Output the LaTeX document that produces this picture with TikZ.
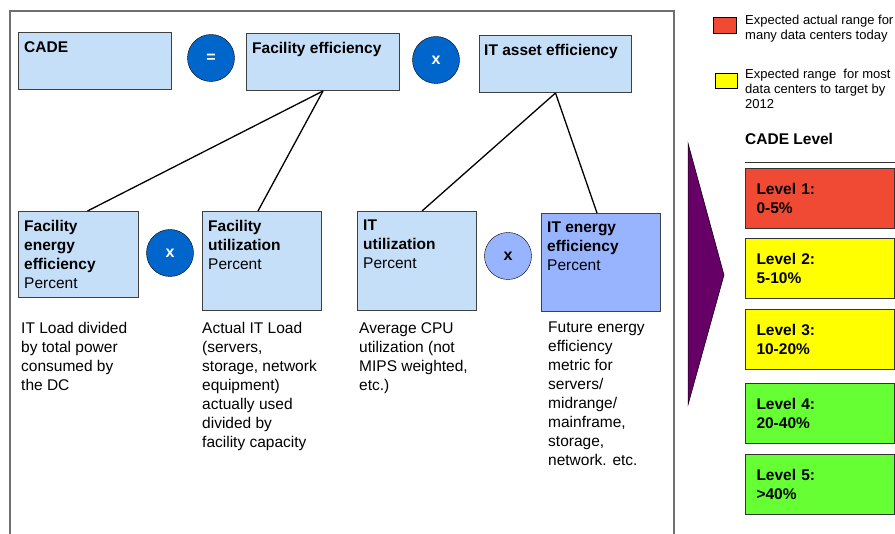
\documentclass[tikz,border=0pt]{standalone}
\usepackage{fontspec}
\setmainfont{Liberation Sans}
\usetikzlibrary{positioning}

\definecolor{boxblue}{HTML}{C6DFF9}
\definecolor{boxedge}{HTML}{404040}
\definecolor{opblue}{HTML}{0066CC}
\definecolor{paleblue}{HTML}{99B4FF}
\definecolor{levelred}{HTML}{F04A35}
\definecolor{levelyellow}{HTML}{FFFF00}
\definecolor{levelgreen}{HTML}{66FF33}
\definecolor{arrowpurple}{HTML}{660066}
\definecolor{framegray}{HTML}{707070}

\newcommand{\basefont}{\fontsize{15.5}{19}\selectfont}
\newcommand{\legendfont}{\fontsize{13}{15}\selectfont}

\tikzset{
  frame/.style={draw=framegray, line width=1.3pt},
  box/.style={draw=boxedge, fill=boxblue, line width=1pt, anchor=north west, inner sep=0pt},
  title/.style={anchor=north west, inner sep=0pt, align=left, font=\basefont},
  desc/.style={anchor=north west, inner sep=0pt, align=left, font=\basefont},
  op/.style={circle, draw=black, fill=opblue, minimum size=47pt, inner sep=0pt, text=white, font=\fontsize{16}{19}\selectfont\bfseries},
  link/.style={line width=1.3pt},
  legend/.style={anchor=north west, inner sep=0pt, align=left, font=\legendfont},
  level/.style={draw=black!80, line width=1pt, anchor=north west, align=left, text width=127pt, inner xsep=11pt, minimum height=60pt, font=\basefont\bfseries}
}

\begin{document}
\begin{tikzpicture}[x=1pt,y=-1pt]
\useasboundingbox (0,0) rectangle (895,534);
\draw[frame] (10,534) |- (674,11) -- (674,534);

% top row
\node[box, minimum width=153pt, minimum height=57pt] (cade) at (18,32) {};
\node[title, below right=9pt and 6pt of cade.north west] (cadet) {\textbf{CADE}};
\node[op] (eq) at (211,58) {=};
\node[box, minimum width=153pt, minimum height=57pt] (fac) at (246,33) {};
\node[title, below right=9pt and 6pt of fac.north west] (fact) {\textbf{Facility efficiency}};
\node[op] (times1) at (436,60) {x};
\node[box, minimum width=152pt, minimum height=57pt] (itasset) at (479,35) {};
\node[title, below right=9pt and 5pt of itasset.north west] (itassett) {\textbf{IT asset efficiency}};

% bottom row
\node[box, minimum width=120pt, minimum height=86pt] (fee) at (18,211) {};
\node[title, below right=9pt and 6pt of fee.north west] (feet) {\textbf{Facility}\\\textbf{energy}\\\textbf{efficiency}\\Percent};
\node[op] (times2) at (170,253) {x};
\node[box, minimum width=119pt, minimum height=99pt] (facutil) at (202,211) {};
\node[title, below right=9pt and 6pt of facutil.north west] (facutilt) {\textbf{Facility}\\\textbf{utilization}\\Percent};
\node[box, minimum width=119pt, minimum height=99pt] (itutil) at (357,211) {};
\node[title, below right=9pt and 6pt of itutil.north west] (itutilt) {\textbf{IT}\\\textbf{utilization}\\Percent};
\node[op, fill=paleblue, text=black] (times3) at (508,256) {x};
\node[box, fill=paleblue, minimum width=119pt, minimum height=98pt] (iteff) at (541,213) {};
\node[title, below right=9pt and 6pt of iteff.north west] (iefft) {\textbf{IT energy}\\\textbf{efficiency}\\Percent};

% tree lines
\draw[link] (fac.south) -- ([xshift=9pt]fee.north);
\draw[link] (fac.south) -- ([xshift=-4pt]facutil.north);
\draw[link] (itasset.south) -- ([xshift=5pt]itutil.north);
\draw[link] (itasset.south) -- ([xshift=-4pt]iteff.north);

% descriptions
\node[desc] (d1) at (21,322) {IT Load divided\\by total power\\consumed by\\the DC};
\node[desc] (d2) at (202,322) {Actual IT Load\\(servers,\\storage, network\\equipment)\\actually used\\divided by\\facility capacity};
\node[desc] (d3) at (359,322) {Average CPU\\utilization (not\\MIPS weighted,\\etc.)};
\node[desc] (d4) at (548,322) {Future energy\\efficiency\\metric for\\servers/\\midrange/\\mainframe,\\storage,\\network. etc.};

% legend
\node[draw=black, fill=levelred, minimum width=23pt, minimum height=16pt, inner sep=0pt] (legred) at (724.5,25) {};
\node[legend] (legredt) at (745,15) {Expected actual range for\\many data centers today};
\node[draw=black, fill=levelyellow, minimum width=22pt, minimum height=15pt, inner sep=0pt] (legyel) at (726,80.5) {};
\node[legend] (legyelt) at (745,69) {Expected range\ \ for most\\data centers to target by\\2012};
\node[title] (levhead) at (745,133) {\textbf{CADE Level}};
\coordinate (ruleL) at (745,162);
\coordinate (ruleR) at (895,162);
\draw[black!80, line width=0.8pt] (ruleL) -- (ruleR);

% purple arrow
\fill[arrowpurple, draw=black, line width=0.5pt] (688,143) -- (724,275) -- (688,405) -- cycle;

% levels
\foreach \y/\col/\txt [count=\i] in {168/levelred/0-5\%, 238/levelyellow/5-10\%, 309/levelyellow/10-20\%, 383/levelgreen/20-40\%, 454/levelgreen/>40\%}
  \node[level, fill=\col] (lvl\i) at (745,\y) {Level \i:\\\txt};
\end{tikzpicture}
\end{document}
